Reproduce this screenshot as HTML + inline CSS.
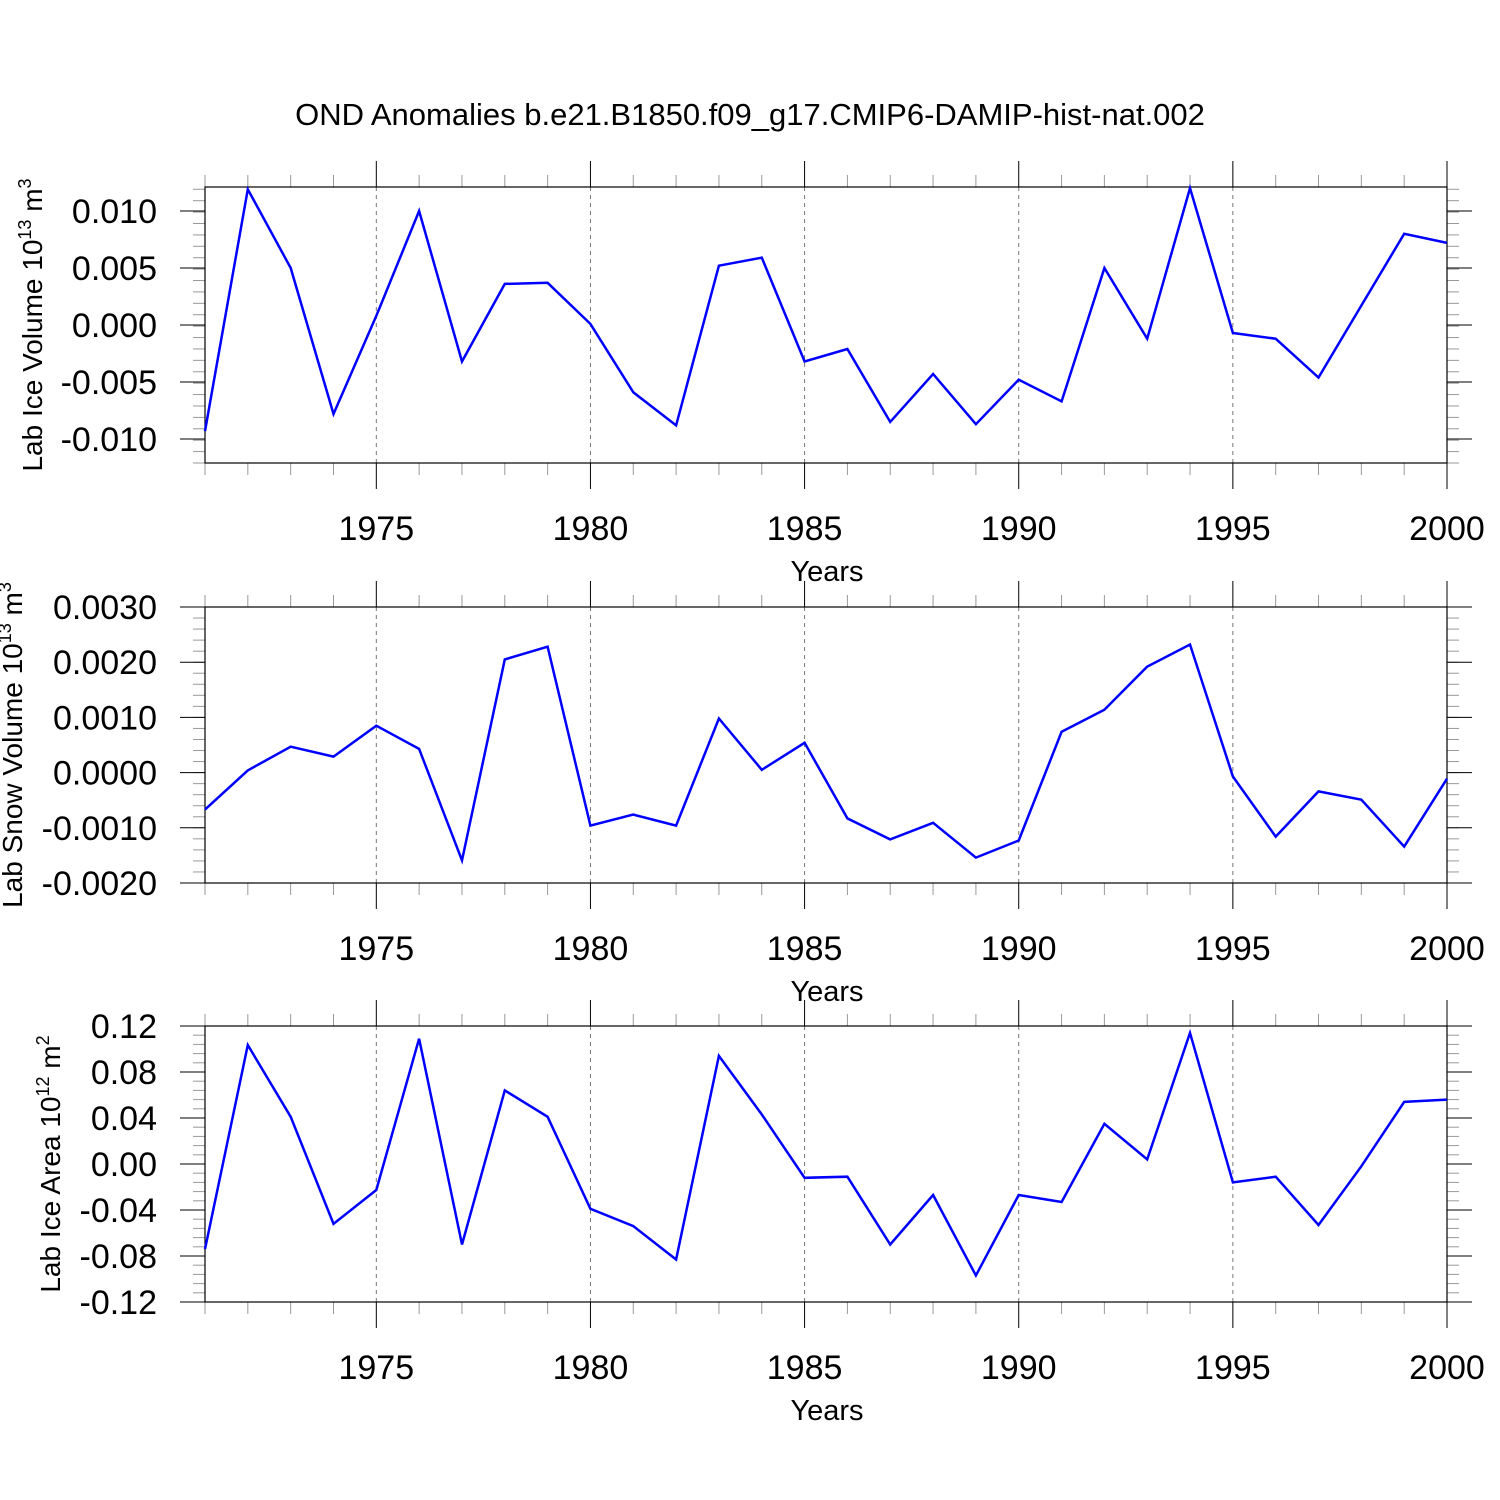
<!DOCTYPE html>
<html><head><meta charset="utf-8"><style>
html,body{margin:0;padding:0;background:#fff}
svg{display:block;font-family:"Liberation Sans",sans-serif}
</style></head><body>
<svg id="c" width="1500" height="1500" viewBox="0 0 1500 1500">
<text x="750" y="125" font-size="31" text-anchor="middle">OND Anomalies b.e21.B1850.f09_g17.CMIP6-DAMIP-hist-nat.002</text>
</svg>
<script>
const years = [1971,1972,1973,1974,1975,1976,1977,1978,1979,1980,1981,1982,1983,1984,1985,1986,1987,1988,1989,1990,1991,1992,1993,1994,1995,1996,1997,1998,1999,2000];
const iceVolume = [-0.0093,0.0119,0.0050,-0.0078,0.0008,0.0100,-0.0032,0.0036,0.0037,0.0001,-0.0059,-0.0088,0.0052,0.0059,-0.0032,-0.0021,-0.0085,-0.0043,-0.0087,-0.0048,-0.0067,0.0050,-0.0012,0.0120,-0.0007,-0.0012,-0.0046,0.0017,0.0080,0.0072];
const snowVolume = [-0.00067,0.00004,0.00047,0.00029,0.00085,0.00043,-0.00159,0.00205,0.00228,-0.00096,-0.00076,-0.00096,0.00098,0.00005,0.00054,-0.00083,-0.00121,-0.00091,-0.00154,-0.00123,0.00074,0.00114,0.00192,0.00232,-0.00007,-0.00116,-0.00034,-0.00049,-0.00134,-0.00011];
const iceArea = [-0.074,0.1035,0.041,-0.052,-0.0226,0.109,-0.070,0.064,0.041,-0.039,-0.054,-0.083,0.094,0.043,-0.012,-0.011,-0.070,-0.027,-0.097,-0.027,-0.033,0.035,0.004,0.114,-0.016,-0.011,-0.053,-0.002,0.054,0.056];
const xTicks = [1975,1980,1985,1990,1995,2000];
const ticks1 = [-0.010,-0.005,0.000,0.005,0.010];
const labels1 = ["-0.010","-0.005","0.000","0.005","0.010"];
const ticks2 = [-0.002,-0.001,0,0.001,0.002,0.003];
const labels2 = ["-0.0020","-0.0010","0.0000","0.0010","0.0020","0.0030"];
const ticks3 = [-0.12,-0.08,-0.04,0,0.04,0.08,0.12];
const labels3 = ["-0.12","-0.08","-0.04","0.00","0.04","0.08","0.12"];

const svg = document.getElementById('c');
const NS = 'http://www.w3.org/2000/svg';
function mk(tag, attrs){const e=document.createElementNS(NS,tag);for(const k in attrs)e.setAttribute(k,attrs[k]);svg.appendChild(e);return e;}
const X0=205, X1=1447;
function xs(yr){return X0+(yr-1971)/(2000-1971)*(X1-X0);}

function panel(name, top, bot, ymin, ymax, ticks, labels, minorStep, data, titleParts, titleX){
  const ys=v=>bot-(v-ymin)/(ymax-ymin)*(bot-top);
  xTicks.forEach(t=>{ if(t<2000){
    const g=mk('line',{x1:xs(t),x2:xs(t),y1:top,y2:bot,stroke:'#777','stroke-width':1,'stroke-dasharray':'4,4'});
    
    
  }});
  years.forEach(yr=>{
    const major = xTicks.includes(yr);
    const L = major?26:12;
    mk('line',{x1:xs(yr),x2:xs(yr),y1:top,y2:top-L,stroke:major?'#000':'#999','stroke-width':1});
    mk('line',{x1:xs(yr),x2:xs(yr),y1:bot,y2:bot+L,stroke:major?'#000':'#999','stroke-width':1});
  });
  const n=Math.round((ymax-ymin)/minorStep);
  for(let i=0;i<=n;i++){
    const v=ymin+i*minorStep, y=ys(v);
    mk('line',{x1:X0,x2:X0-12,y1:y,y2:y,stroke:'#999','stroke-width':1});
    mk('line',{x1:X1,x2:X1+12,y1:y,y2:y,stroke:'#999','stroke-width':1});
  }
  ticks.forEach((v,i)=>{
    const y=ys(v);
    mk('line',{x1:X0,x2:X0-25,y1:y,y2:y,stroke:'#000','stroke-width':1});
    mk('line',{x1:X1,x2:X1+25,y1:y,y2:y,stroke:'#000','stroke-width':1});
    const t=mk('text',{x:157,y:y+12,'font-size':34,'text-anchor':'end'});
    t.textContent=labels[i];
    
    
  });
  const box=mk('rect',{x:X0,y:top,width:X1-X0,height:bot-top,fill:'none',stroke:'#000','stroke-width':1.2});
  
  
  xTicks.forEach(t=>{
    const l=mk('text',{x:xs(t),y:bot+77,'font-size':34,'text-anchor':'middle'});
    l.textContent=t;
    
    
  });
  const xt=mk('text',{x:827,y:bot+118,'font-size':29,'text-anchor':'middle'});
  xt.textContent='Years';
  
  
  const cy=(top+bot)/2;
  const yt=mk('text',{x:titleX,y:cy,'font-size':28,'text-anchor':'middle',transform:`rotate(-90 ${titleX} ${cy})`});
  
  
  const a=document.createElementNS(NS,'tspan');a.textContent=titleParts[0];yt.appendChild(a);
  const b=document.createElementNS(NS,'tspan');b.textContent=titleParts[1];b.setAttribute('font-size','18');b.setAttribute('dy','-11');yt.appendChild(b);
  const c=document.createElementNS(NS,'tspan');c.textContent=titleParts[2];c.setAttribute('dy','11');yt.appendChild(c);
  const d=document.createElementNS(NS,'tspan');d.textContent=titleParts[3];d.setAttribute('font-size','18');d.setAttribute('dy','-11');yt.appendChild(d);
  const pts=data.map((v,i)=>xs(years[i]).toFixed(1)+','+ys(v).toFixed(1)).join(' ');
  const pl=mk('polyline',{points:pts,fill:'none',stroke:'#0000ff','stroke-width':2.5,'stroke-linejoin':'miter'});
  
  
}
panel('ice-volume',187,463,-0.0121,0.0121,ticks1,labels1,0.001,iceVolume,['Lab Ice Volume 10','13',' m','3'],42);
panel('snow-volume',607,883,-0.002,0.003,ticks2,labels2,0.0002,snowVolume,['Lab Snow Volume 10','13',' m','3'],22);
panel('ice-area',1026,1302,-0.12,0.12,ticks3,labels3,0.008,iceArea,['Lab Ice Area 10','12',' m','2'],60);
</script>
</body></html>
